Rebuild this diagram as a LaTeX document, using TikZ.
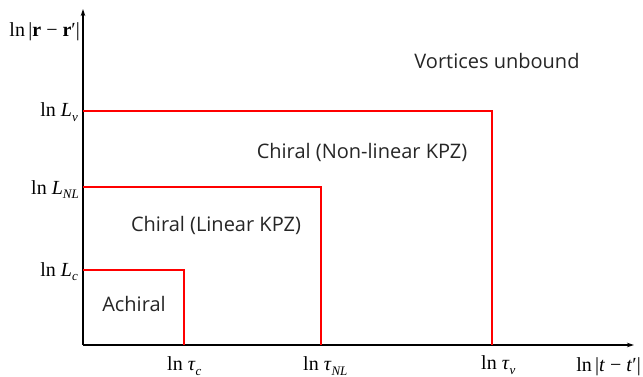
\documentclass[tikz,border=0pt]{standalone}
\usepackage{fontspec}
\setmainfont{Liberation Serif}
\newfontfamily\regionfont{Open Sans}
\usetikzlibrary{arrows.meta}
\newcommand{\lowsub}[1]{\raisebox{-5pt}{\fontsize{13}{13}\selectfont\textit{#1}}}
\tikzset{
  axis/.style={line width=1.2pt, -{Stealth[length=7pt,width=4.5pt]}},
  bound/.style={line width=1.2pt, red},
  lbl/.style={font=\fontsize{20}{24}\selectfont, inner sep=0pt},
  region/.style={font=\regionfont\fontsize{20}{24}\selectfont, text=black!85, inner sep=0pt}
}
\begin{document}
\begin{tikzpicture}[x=1pt,y=-1pt]
\useasboundingbox (0,0) rectangle (643,377);
\coordinate (O) at (83,345);
\coordinate (ytop) at (83,9);
\coordinate (xend) at (634,345);
\draw[axis] (O) -- (ytop);
\draw[axis] (O) -- (xend);
% boundaries
\coordinate (Lc) at (83,270);
\coordinate (Ac) at (184,270);
\coordinate (tc) at (184,345);
\coordinate (LNL) at (83,187);
\coordinate (ANL) at (321,187);
\coordinate (tNL) at (321,345);
\coordinate (Lv) at (83,111);
\coordinate (Av) at (492,111);
\coordinate (tv) at (492,345);
\draw[bound] (Lc) -- (Ac) -- (tc);
\draw[bound] (LNL) -- (ANL) -- (tNL);
\draw[bound] (Lv) -- (Av) -- (tv);
% axis labels
\node[lbl, anchor=base east] (ylab) at (80,37) {ln\,|\textbf{r} − \textbf{r}′|};
\node[lbl, anchor=base east] (xlab) at (641,371) {ln\,|\textit{t} − \textit{t}′|};
\node[lbl, anchor=base east] (yLv) at (78,117) {ln \textit{L}\lowsub{v}};
\node[lbl, anchor=base east] (yLNL) at (79,194) {ln \textit{L}\lowsub{NL}};
\node[lbl, anchor=base east] (yLc) at (78,276) {ln \textit{L}\lowsub{c}};
\node[lbl, anchor=base west] (xtc) at (167,370) {ln \textit{τ}\lowsub{c}};
\node[lbl, anchor=base west] (xtNL) at (303,370) {ln \textit{τ}\lowsub{NL}};
\node[lbl, anchor=base west] (xtv) at (481,369) {ln \textit{τ}\lowsub{v}};
% regions
\node[region] (vu) at (497,61) {Vortices unbound};
\node[region] (cnl) at (362,152) {Chiral (Non-linear KPZ)};
\node[region] (cl) at (216,225) {Chiral (Linear KPZ)};
\node[region] (ach) at (134,304) {Achiral};
\end{tikzpicture}
\end{document}
